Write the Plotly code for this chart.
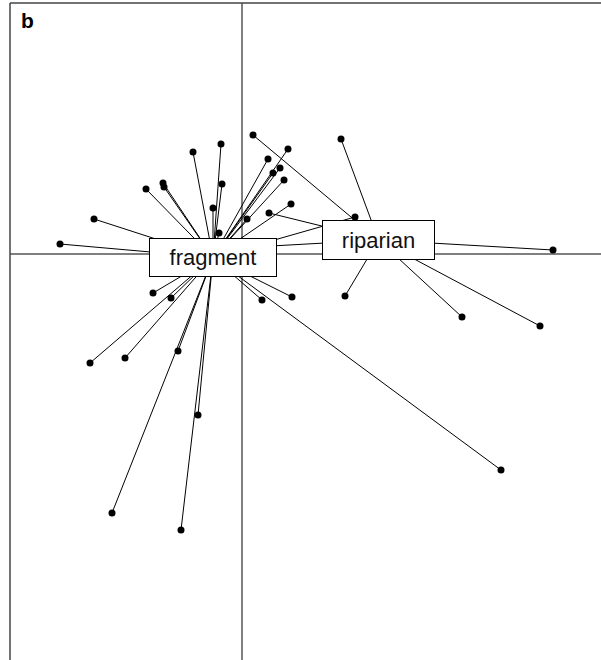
import plotly.graph_objects as go

# group centres (factorial map coordinates)
groups = ["fragment", "riparian"]
center_x = [-0.29, 1.365]
center_y = [-0.035, 0.14]

# site scores, per group
frag_x = [-1.82, -1.48, -0.96, -0.79, -0.78, -0.49, -0.21, -0.20, -0.29, -0.23,
          0.46, 0.26, 0.38, 0.31, 0.42, 0.49, 0.05, 1.13, -0.89, -0.71,
          0.20, 0.50, -0.64, -1.52, -1.17, -0.44, -1.30, -0.61, 2.59]
frag_y = [0.10, 0.35, 0.65, 0.71, 0.67, 1.02, 1.10, 0.70, 0.46, 0.21,
          1.05, 0.95, 0.86, 0.81, 0.74, 0.50, 0.35, 0.37, -0.39, -0.44,
          -0.46, -0.43, -0.97, -1.09, -1.04, -1.61, -2.59, -2.76, -2.16]

rip_x = [0.11, 0.27, 0.99, 3.11, 1.03, 2.20, 2.98, -0.42]
rip_y = [1.19, 0.41, 1.15, 0.04, -0.42, -0.63, -0.72, 0.04]

xs = [frag_x, rip_x]
ys = [frag_y, rip_y]

fig = go.Figure()

# star lines from each site to its group centre
for g in range(len(groups)):
    lx, ly = [], []
    for x, y in zip(xs[g], ys[g]):
        lx += [center_x[g], x, None]
        ly += [center_y[g], y, None]
    fig.add_trace(go.Scatter(x=lx, y=ly, mode="lines",
                             line=dict(color="black", width=1),
                             hoverinfo="skip", showlegend=False))

for g in range(len(groups)):
    fig.add_trace(go.Scatter(x=xs[g], y=ys[g], mode="markers",
                             marker=dict(color="black", size=7),
                             showlegend=False))

# group labels in boxes
for g, name in enumerate(groups):
    fig.add_annotation(x=center_x[g], y=center_y[g], text=name, showarrow=False,
                       font=dict(family="Liberation Sans, Arial", size=22, color="#111"),
                       bgcolor="white", bordercolor="black", borderwidth=1,
                       borderpad=0, width=[126, 111][g], height=[37, 38][g])

fig.add_annotation(x=0, y=1, xref="paper", yref="paper", xanchor="left", yanchor="top",
                   xshift=9, yshift=-4, text="<b>b</b>", showarrow=False,
                   font=dict(family="Liberation Sans, Arial", size=21, color="black"))

# origin axes and frame
fig.add_shape(type="line", xref="x", yref="paper", x0=0, x1=0, y0=0, y1=1,
              line=dict(color="black", width=1), layer="below")
fig.add_shape(type="line", xref="paper", yref="y", x0=0, x1=1, y0=0, y1=0,
              line=dict(color="black", width=1), layer="below")
fig.add_shape(type="line", xref="paper", yref="paper", x0=0, x1=0, y0=0, y1=1,
              line=dict(color="#444", width=1.5))
fig.add_shape(type="line", xref="paper", yref="paper", x0=0, x1=1, y0=1, y1=1,
              line=dict(color="#444", width=1.5))

fig.update_xaxes(range=[-2.32, 3.59], visible=False)
fig.update_yaxes(range=[-4.06, 2.51], visible=False)
fig.update_layout(width=601, height=660, margin=dict(l=10, r=0, t=3, b=0),
                  plot_bgcolor="white", paper_bgcolor="white")

fig.write_html("out.html", config={"displayModeBar": False},
               post_script="document.body.style.margin='0';document.body.style.overflow='hidden';")
